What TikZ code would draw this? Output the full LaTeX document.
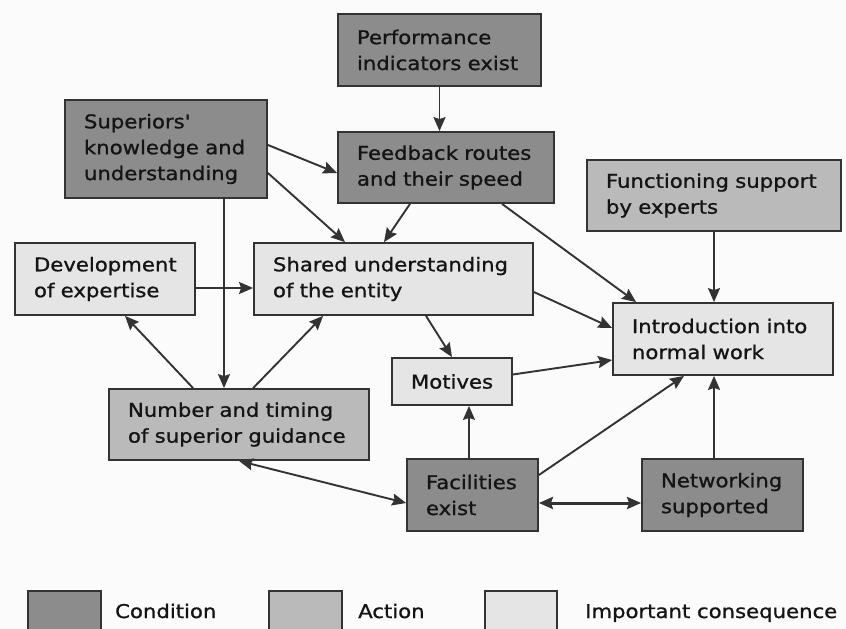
\documentclass[tikz,border=0pt]{standalone}
\usepackage{fontspec}
\setmainfont{DejaVu Sans}[FakeStretch=1.12,FakeBold=1.0]
\usetikzlibrary{arrows.meta,calc}
\definecolor{condfill}{gray}{0.55}
\definecolor{actfill}{gray}{0.73}
\definecolor{consfill}{gray}{0.90}
\definecolor{edge}{gray}{0.2}
\definecolor{paper}{gray}{0.985}
\begin{document}
\begin{tikzpicture}[x=1bp,y=-1bp,
  box/.style={draw=edge, line width=1.8bp, rectangle, inner xsep=19bp, inner ysep=0pt,
    align=left, font=\fontsize{19}{26}\selectfont, text=black!92},
  cond/.style={box, fill=condfill},
  act/.style={box, fill=actfill},
  cons/.style={box, fill=consfill},
  link/.style={draw=edge, line width=1.9bp, -{Stealth[length=14bp,width=12bp,inset=2bp]}},
  both/.style={draw=edge, line width=1.9bp, {Stealth[length=14bp,width=12bp,inset=2bp]}-{Stealth[length=14bp,width=12bp,inset=2bp]}},
  legtext/.style={anchor=base west, inner sep=0pt, font=\fontsize{19}{26}\selectfont, text=black!92},
]
\useasboundingbox (0,0) rectangle (846,629);
\clip (0,0) rectangle (846,629);
\fill[paper] (0,0) rectangle (846,629);

% boxes
\node[cond, minimum height=72bp, text width=165bp] (perf) at (439.5,50) {Performance\\indicators exist};
\node[cond, minimum height=98bp, text width=164bp] (sup) at (166,149) {Superiors\textquotesingle\\knowledge and\\understanding};
\node[cond, minimum height=71bp, text width=178bp] (feed) at (446,167.5) {Feedback routes\\and their speed};
\node[act, minimum height=71bp, text width=216bp] (func) at (714,195.5) {Functioning support\\by experts};
\node[cons, minimum height=72bp, text width=142bp] (dev) at (105,279) {Development\\of expertise};
\node[cons, minimum height=72bp, text width=241bp] (shared) at (393.5,279) {Shared understanding\\of the entity};
\node[cons, minimum height=72bp, text width=182bp] (intro) at (723,339) {Introduction into\\normal work};
\node[cons, minimum height=47bp, text width=82bp] (mot) at (452,381.5) {Motives};
\node[act, minimum height=71bp, text width=222bp] (num) at (239,424.5) {Number and timing\\of superior guidance};
\node[cond, minimum height=72bp, text width=93bp] (fac) at (472.5,495) {Facilities\\exist};
\node[cond, minimum height=72bp, text width=123bp] (net) at (722.5,495) {Networking\\supported};

% start points of the vertical connectors
\coordinate (supdown) at ($(sup.south)+(58,0)$);
\coordinate (facup) at ($(fac.north)+(-3.5,0)$);
\coordinate (netup) at ($(net.north)+(-8.5,0)$);

% connectors
\draw[link] (perf.south) -- (perf.south |- feed.north);
\draw[link] ($(sup.east)+(0,-4)$) -- ($(feed.west)+(0,5.5)$);
\draw[link] ($(sup.east)+(0,24)$) -- ($(shared.north)+(-48.5,0)$);
\draw[link] ($(feed.south)+(-36,0)$) -- ($(shared.north)+(-9.5,0)$);
\draw[link] ($(feed.south)+(56,0)$) -- ($(intro.north west)+(24,0)$);
\draw[link] (func.south) -- (func.south |- intro.north);
\draw[link] ($(dev.east)+(0,9)$) -- ($(shared.west)+(0,9)$);
\draw[link] (supdown) -- (supdown |- num.north);
\draw[link] ($(num.north west)+(85,0)$) -- ($(dev.south)+(20,0)$);
\draw[link] ($(num.north west)+(145,0)$) -- ($(shared.south west)+(70,0)$);
\draw[link] ($(shared.east)+(0,13)$) -- ($(intro.west)+(0,-11)$);
\draw[link] ($(shared.south)+(32.5,0)$) -- (mot.north);
\draw[link] ($(mot.east)+(0,-7)$) -- ($(intro.west)+(0,21)$);
\draw[link] (facup) -- (facup |- mot.south);
\draw[link] ($(fac.east)+(0,-20)$) -- ($(intro.south)+(-39,0)$);
\draw[link] (netup) -- (netup |- intro.south);
\draw[both] (num.south) -- ($(fac.west)+(0,8)$);
\draw[both, line width=3bp] ($(fac.east)+(0,8)$) -- ($(net.west)+(0,8)$);

% legend
\node[cond, minimum width=73bp, minimum height=60bp, anchor=north west] (legcond) at (27,590) {};
\node[act, minimum width=73bp, minimum height=60bp, anchor=north west] (legact) at (268,590) {};
\node[cons, minimum width=72bp, minimum height=60bp, anchor=north west] (legcons) at (484,590) {};
\node[legtext] (legcondtext) at (115,618) {Condition};
\node[legtext] (legacttext) at (358,618) {Action};
\node[legtext] (legconstext) at (585,618) {Important consequence};
\end{tikzpicture}
\end{document}
